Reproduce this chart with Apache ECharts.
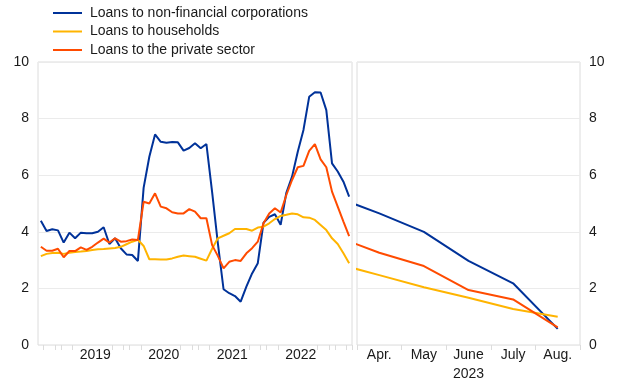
<!DOCTYPE html>
<html>
<head>
<meta charset="utf-8">
<script src="https://cdn.jsdelivr.net/npm/echarts@6/dist/echarts.min.js"></script>
<style>
html,body{margin:0;padding:0;background:#fff;}
#chart{width:620px;height:387px;}
</style>
</head>
<body>
<div id="chart"></div>
<script>
// Monthly categories Sep 2018 - Mar 2023
const months = [
 '2018-09','2018-10','2018-11','2018-12',
 '2019-01','2019-02','2019-03','2019-04','2019-05','2019-06','2019-07','2019-08','2019-09','2019-10','2019-11','2019-12',
 '2020-01','2020-02','2020-03','2020-04','2020-05','2020-06','2020-07','2020-08','2020-09','2020-10','2020-11','2020-12',
 '2021-01','2021-02','2021-03','2021-04','2021-05','2021-06','2021-07','2021-08','2021-09','2021-10','2021-11','2021-12',
 '2022-01','2022-02','2022-03','2022-04','2022-05','2022-06','2022-07','2022-08','2022-09','2022-10','2022-11','2022-12',
 '2023-01','2023-02','2023-03'
];
const nfc = [4.39,4.03,4.09,4.05,
 3.62,3.97,3.77,3.97,3.95,3.95,4.0,4.16,3.57,3.77,3.42,3.2,
 3.18,2.97,5.55,6.65,7.44,7.18,7.15,7.17,7.16,6.87,6.96,7.13,
 6.95,7.1,5.4,3.6,1.97,1.83,1.73,1.53,2.06,2.53,2.89,4.32,
 4.53,4.62,4.25,5.38,5.95,6.83,7.6,8.77,8.93,8.92,8.3,6.42,
 6.13,5.77,5.24];
const households = [3.14,3.22,3.25,3.26,
 3.22,3.26,3.29,3.3,3.32,3.36,3.38,3.39,3.41,3.43,3.47,3.56,
 3.65,3.72,3.5,3.03,3.03,3.02,3.02,3.06,3.12,3.16,3.14,3.12,
 3.05,2.98,3.4,3.77,3.86,3.95,4.1,4.1,4.1,4.04,4.15,4.18,
 4.3,4.45,4.56,4.6,4.65,4.62,4.51,4.5,4.42,4.24,4.06,3.77,
 3.57,3.24,2.89];
const privateSector = [3.47,3.33,3.33,3.4,
 3.1,3.32,3.32,3.45,3.36,3.47,3.62,3.76,3.62,3.77,3.65,3.67,
 3.73,3.71,5.06,5.0,5.36,4.89,4.83,4.69,4.65,4.65,4.8,4.71,
 4.48,4.48,3.53,3.15,2.71,2.94,3.0,2.97,3.24,3.42,3.65,4.3,
 4.65,4.83,4.68,5.3,5.83,6.28,6.33,6.86,7.1,6.56,6.28,5.42,
 4.89,4.36,3.85];

// 2023 detail panel: Mar (partly visible) to Aug
const detailMonths = ['Mar.','Apr.','May','June','July','Aug.'];
const detailLabels = ['Apr.','May','June','July','Aug.'];
const detailNfc = [5.24,4.65,4.0,2.97,2.18,0.57];
const detailHouseholds = [2.89,2.47,2.04,1.67,1.27,1.0];
const detailPrivate = [3.85,3.26,2.79,1.94,1.61,0.62];

const yTicks = [0,2,4,6,8,10];
const names = ['Loans to non-financial corporations','Loans to households','Loans to the private sector'];
const colors = ['#003299','#ffb400','#ff4b00'];

const textColor = '#1a1a1a';
const font = 'Liberation Sans, Arial, Helvetica, sans-serif';
const gridCol = '#ebebeb';
const borderCol = '#dcdcdc';

const chart = echarts.init(document.getElementById('chart'));

function pairs(vals){ return vals.map((v,i)=>[i,v]); }

const leftSeries = [nfc, households, privateSector];
const rightSeries = [detailNfc, detailHouseholds, detailPrivate];

const series = [];
leftSeries.forEach((d,k)=>{
  series.push({name:names[k], type:'line', xAxisIndex:0, yAxisIndex:0, data:d,
    symbol:'none', lineStyle:{width:2, color:colors[k]}, itemStyle:{color:colors[k]}, z:2+k});
});
rightSeries.forEach((d,k)=>{
  series.push({name:names[k], type:'line', xAxisIndex:1, yAxisIndex:1, data:pairs(d),
    symbol:'none', clip:true, lineStyle:{width:2, color:colors[k]}, itemStyle:{color:colors[k]}, z:2+k});
});

const yearLabelMonth = 5; // June -> label shifted to year centre
const tickMonths = [9,11,0,2];

chart.setOption({
  animation:false,
  textStyle:{fontFamily:font},
  color:colors,
  legend:{
    orient:'vertical', left:48, top:1,
    itemWidth:29, itemHeight:14, itemGap:4.5,
    icon:'path://M0,6 L29,6 L29,8 L0,8 Z',
    textStyle:{fontSize:14, color:textColor, lineHeight:14, padding:[0,0,0,3], fontFamily:font},
    data:names
  },
  grid:[
    {left:38, right:268, top:62, bottom:42, show:true, borderColor:borderCol, borderWidth:1},
    {left:357, right:40, top:62, bottom:42, show:true, borderColor:borderCol, borderWidth:1}
  ],
  xAxis:[
    {type:'category', gridIndex:0, data:months, boundaryGap:true, position:'bottom',
     axisLine:{show:false},
     axisTick:{show:true, length:5, lineStyle:{color:borderCol},
       interval:(i,v)=>tickMonths.indexOf(parseInt(v.slice(5),10)-1)>=0},
     axisLabel:{interval:(i,v)=>parseInt(v.slice(5),10)-1===yearLabelMonth,
       formatter:v=>v.slice(0,4), fontSize:14, color:textColor, margin:3, padding:[0,0,0,6], fontFamily:font},
     splitLine:{show:false}},
    {type:'value', gridIndex:1, min:0.5, max:5.5, show:false, position:'top'},
    {type:'category', gridIndex:1, data:detailLabels, boundaryGap:true, position:'bottom',
     axisLine:{show:false},
     axisTick:{show:true, length:5, lineStyle:{color:borderCol}},
     axisLabel:{fontSize:14, color:textColor, margin:3, fontFamily:font},
     name:'2023', nameLocation:'middle', nameGap:21,
     nameTextStyle:{fontSize:14, color:textColor, fontFamily:font},
     splitLine:{show:false}}
  ],
  yAxis:[
    {type:'value', gridIndex:0, min:yTicks[0], max:yTicks[yTicks.length-1], interval:2, position:'left',
     axisLine:{show:false}, axisTick:{show:false},
     axisLabel:{fontSize:14, color:textColor, margin:9, fontFamily:font},
     splitLine:{show:true, lineStyle:{color:gridCol, width:1}}},
    {type:'value', gridIndex:1, min:yTicks[0], max:yTicks[yTicks.length-1], interval:2, position:'right',
     axisLine:{show:false}, axisTick:{show:false},
     axisLabel:{fontSize:14, color:textColor, margin:9, fontFamily:font},
     splitLine:{show:true, lineStyle:{color:gridCol, width:1}}}
  ],
  series:series
});
</script>
</body>
</html>
